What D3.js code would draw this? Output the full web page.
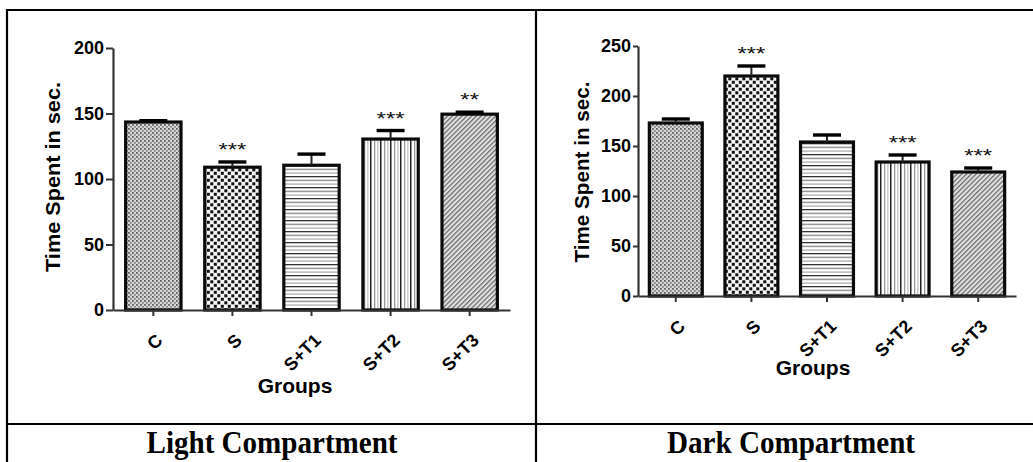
<!DOCTYPE html>
<html>
<head>
<meta charset="utf-8">
<script src="https://cdn.jsdelivr.net/npm/d3@7"></script>
<style>
  html, body { margin: 0; padding: 0; background: #fff; }
  svg { display: block; }
</style>
</head>
<body>
<svg id="chart" width="1033" height="462"></svg>
<script>
// ---- data ----
const groups = ["C", "S", "S+T1", "S+T2", "S+T3"];
const lightMean = [143.5, 109, 110.5, 130.5, 149.5];
const lightErr = [1, 4, 8.5, 6.5, 1.5];
const lightStars = ["", "***", "", "***", "**"];
const lightTicks = [0, 50, 100, 150, 200];
const darkMean = [173, 220, 154, 134, 124];
const darkErr = [4, 10, 7, 7, 4];
const darkStars = ["", "***", "", "***", "***"];
const darkTicks = [0, 50, 100, 150, 200, 250];
const yTitle = "Time Spent in sec.";
const xTitle = "Groups";
const panelTitles = ["Light Compartment", "Dark Compartment"];
const patternIds = ["pC", "pS", "pT1", "pT2", "pT3"];

const svg = d3.select("#chart");
const defs = svg.append("defs");

// pattern: C (fine grey dots)
let p = defs.append("pattern").attr("id", "pC").attr("patternUnits", "userSpaceOnUse")
  .attr("width", 4).attr("height", 4);
p.append("rect").attr("width", 4).attr("height", 4).attr("fill", "#d6d6d6");
p.append("rect").attr("x", 0).attr("y", 0).attr("width", 1.8).attr("height", 1.8).attr("fill", "#626262");
p.append("rect").attr("x", 2).attr("y", 2).attr("width", 1.8).attr("height", 1.8).attr("fill", "#858585");

// pattern: S (checker)
p = defs.append("pattern").attr("id", "pS").attr("patternUnits", "userSpaceOnUse")
  .attr("width", 7).attr("height", 7);
p.append("rect").attr("width", 7).attr("height", 7).attr("fill", "#f4f4f4");
p.append("rect").attr("x", 0.3).attr("y", 0.3).attr("width", 3).attr("height", 3).attr("fill", "#111");
p.append("rect").attr("x", 3.8).attr("y", 3.8).attr("width", 3).attr("height", 3).attr("fill", "#111");

// pattern: S+T1 (horizontal lines)
p = defs.append("pattern").attr("id", "pT1").attr("patternUnits", "userSpaceOnUse")
  .attr("width", 10).attr("height", 11);
p.append("rect").attr("width", 10).attr("height", 11).attr("fill", "#fff");
p.append("rect").attr("x", 0).attr("y", 0).attr("width", 10).attr("height", 1.3).attr("fill", "#333");
p.append("rect").attr("x", 0).attr("y", 3.6).attr("width", 10).attr("height", 1.6).attr("fill", "#9a9a9a");
p.append("rect").attr("x", 0).attr("y", 7.3).attr("width", 10).attr("height", 1.6).attr("fill", "#bdbdbd");

// pattern: S+T2 (vertical lines)
p = defs.append("pattern").attr("id", "pT2").attr("patternUnits", "userSpaceOnUse")
  .attr("width", 10).attr("height", 10);
p.append("rect").attr("width", 10).attr("height", 10).attr("fill", "#fff");
p.append("rect").attr("x", 0).attr("y", 0).attr("width", 1.5).attr("height", 10).attr("fill", "#222");
p.append("rect").attr("x", 4).attr("y", 0).attr("width", 1.3).attr("height", 10).attr("fill", "#999");
p.append("rect").attr("x", 7.2).attr("y", 0).attr("width", 1.3).attr("height", 10).attr("fill", "#c2c2c2");

// pattern: S+T3 (diagonal hatching)
p = defs.append("pattern").attr("id", "pT3").attr("patternUnits", "userSpaceOnUse")
  .attr("width", 3.4).attr("height", 10).attr("patternTransform", "rotate(45)");
p.append("rect").attr("width", 3.4).attr("height", 10).attr("fill", "#e2e2e2");
p.append("rect").attr("x", 0).attr("y", 0).attr("width", 1.3).attr("height", 10).attr("fill", "#6e6e6e");

// ---- frame lines ----
const frame = svg.append("g").attr("stroke", "#000").attr("stroke-width", 2.2);
frame.append("line").attr("x1", 7).attr("y1", 10).attr("x2", 1033).attr("y2", 10);
frame.append("line").attr("x1", 7).attr("y1", 9).attr("x2", 7).attr("y2", 462);
frame.append("line").attr("x1", 536).attr("y1", 9).attr("x2", 536).attr("y2", 462);
frame.append("line").attr("x1", 7).attr("y1", 424).attr("x2", 1033).attr("y2", 424);

const SANS = "'Liberation Sans', Arial, sans-serif";
const SERIF = "'Liberation Serif', 'Times New Roman', serif";

function drawPanel(cfg) {
  const g = svg.append("g");
  const x = d3.scaleBand().domain(groups).range(cfg.xRange)
    .paddingInner(0.3).paddingOuter(cfg.po);
  const y = d3.scaleLinear().domain([0, cfg.yMax]).range(cfg.yRange);

  // bars
  g.selectAll("rect.bar").data(groups).join("rect")
    .attr("class", "bar")
    .attr("x", d => x(d))
    .attr("width", x.bandwidth())
    .attr("y", (d, i) => y(cfg.mean[i]))
    .attr("height", (d, i) => y(0) - y(cfg.mean[i]))
    .attr("fill", (d, i) => `url(#${patternIds[i]})`)
    .attr("stroke", "#0a0a0a").attr("stroke-width", 3.2);

  // error bars
  g.selectAll("line.err").data(groups).join("line")
    .attr("class", "err")
    .attr("x1", d => x(d) + x.bandwidth() / 2).attr("x2", d => x(d) + x.bandwidth() / 2)
    .attr("y1", (d, i) => y(cfg.mean[i]))
    .attr("y2", (d, i) => y(cfg.mean[i] + cfg.err[i]))
    .attr("stroke", "#222").attr("stroke-width", 2);
  g.selectAll("line.cap").data(groups).join("line")
    .attr("class", "cap")
    .attr("x1", d => x(d) + x.bandwidth() / 2 - 14).attr("x2", d => x(d) + x.bandwidth() / 2 + 14)
    .attr("y1", (d, i) => y(cfg.mean[i] + cfg.err[i]))
    .attr("y2", (d, i) => y(cfg.mean[i] + cfg.err[i]))
    .attr("stroke", "#000").attr("stroke-width", 3.4);

  // stars
  g.selectAll("text.star").data(groups).join("text")
    .attr("class", "star")
    .attr("x", d => x(d) + x.bandwidth() / 2)
    .attr("y", (d, i) => y(cfg.mean[i] + cfg.err[i]) - 6)
    .attr("text-anchor", "middle")
    .attr("font-family", SANS).attr("font-size", 18)
    .attr("fill", "#111")
    .each(function(d, i) {
      const s = cfg.stars[i];
      d3.select(this).text(s);
      if (s.length) d3.select(this).attr("textLength", s.length * 9.3).attr("lengthAdjust", "spacingAndGlyphs");
    });

  // y axis
  const yAxis = g.append("g").attr("transform", `translate(${cfg.xRange[0]},0)`)
    .call(d3.axisLeft(y).tickValues(cfg.ticks).tickSize(cfg.tickLen).tickSizeOuter(0).tickPadding(2));
  yAxis.attr("font-size", null).attr("font-family", null);
  yAxis.select(".domain").attr("stroke", "#333").attr("stroke-width", 2.2);
  yAxis.selectAll(".tick line").attr("stroke", "#333").attr("stroke-width", 2);
  yAxis.selectAll(".tick text")
    .style("font-family", SANS).style("font-weight", "bold").style("font-size", "18px")
    .attr("fill", "#000");

  // x axis
  const xAxis = g.append("g").attr("transform", `translate(0,${cfg.yRange[0]})`)
    .call(d3.axisBottom(x).tickSize(6).tickSizeOuter(0).tickFormat(""));
  xAxis.select(".domain").attr("stroke", "#333").attr("stroke-width", 2.2);
  xAxis.selectAll(".tick line").attr("stroke", "#333").attr("stroke-width", 2);

  // x labels rotated
  g.selectAll("text.xl").data(groups).join("text")
    .attr("class", "xl")
    .attr("transform", d => `translate(${x(d) + x.bandwidth() / 2 + 6},${cfg.yRange[0] + 27}) rotate(-45)`)
    .attr("text-anchor", "end")
    .attr("dy", "0.35em")
    .style("font-family", SANS).style("font-weight", "bold").style("font-size", "18px")
    .attr("fill", "#000")
    .text(d => d);

  // axis titles
  g.append("text")
    .attr("transform", `translate(${cfg.yTitleX},${cfg.yTitleY}) rotate(-90)`)
    .attr("text-anchor", "middle")
    .style("font-family", SANS).style("font-weight", "bold").style("font-size", "20px")
    .attr("textLength", cfg.yTitleLen).attr("lengthAdjust", "spacingAndGlyphs")
    .text(yTitle);
  g.append("text")
    .attr("x", cfg.groupsX).attr("y", cfg.groupsY)
    .attr("text-anchor", "middle")
    .style("font-family", SANS).style("font-weight", "bold").style("font-size", "21px")
    .text(xTitle);

  // panel title
  g.append("text")
    .attr("transform", `translate(${cfg.titleX},453) scale(1,1.1)`)
    .attr("text-anchor", "middle")
    .style("font-family", SERIF).style("font-weight", "bold").style("font-size", "29px")
    .attr("textLength", cfg.titleLen).attr("lengthAdjust", "spacingAndGlyphs")
    .text(cfg.title);
}

drawPanel({
  mean: lightMean, err: lightErr, stars: lightStars, ticks: lightTicks, yMax: 200,
  xRange: [113, 510], po: 0.16, yRange: [310, 48], tickLen: 7,
  yTitleX: 60, yTitleY: 177, yTitleLen: 190,
  groupsX: 295, groupsY: 393, titleX: 272, titleLen: 251, title: panelTitles[0]
});
drawPanel({
  mean: darkMean, err: darkErr, stars: darkStars, ticks: darkTicks, yMax: 250,
  xRange: [638, 1016], po: 0.15, yRange: [296, 46], tickLen: 5,
  yTitleX: 589, yTitleY: 172, yTitleLen: 181,
  groupsX: 813, groupsY: 375, titleX: 791, titleLen: 248, title: panelTitles[1]
});
</script>
</body>
</html>
